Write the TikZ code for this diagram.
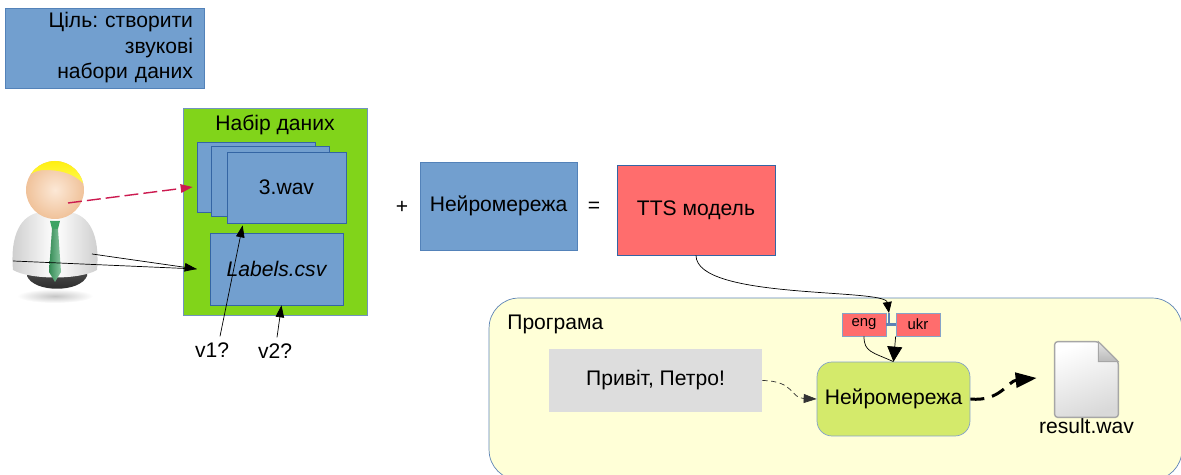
\documentclass[tikz,border=0pt]{standalone}
\usepackage{fontspec}
\setmainfont{Liberation Sans}
\usepackage{xcolor}
\usetikzlibrary{shapes,arrows.meta,positioning,fit,calc}
\frenchspacing

\definecolor{skyblue}{HTML}{729FCF}
\definecolor{deepblue}{HTML}{3465A4}
\definecolor{leafgreen}{HTML}{81D41A}
\definecolor{salmon}{HTML}{FF6D6D}
\definecolor{cream}{HTML}{FFFFD7}
\definecolor{pistachio}{HTML}{D4EA6B}
\definecolor{silver}{HTML}{DDDDDD}
\definecolor{crimson}{HTML}{CC1A50}
\definecolor{tiegreen}{HTML}{3DA364}
\definecolor{skinlight}{HTML}{FCE8D6}
\definecolor{skindark}{HTML}{F0C29A}

\begin{document}
\begin{tikzpicture}[x=0.02cm, y=-0.02cm, font=\fontsize{12}{14.5}\selectfont,
    box/.style={rectangle, draw=deepblue!50!skyblue, fill=skyblue, inner sep=0pt},
    wavbox/.style={box, draw=deepblue, minimum width=2.36cm, minimum height=1.4cm},
    redbox/.style={box, draw=deepblue, fill=salmon},
    tag/.style={redbox, draw=deepblue!60, minimum width=0.88cm, minimum height=0.46cm, font=\fontsize{8.5}{10}\selectfont},
    arr/.style={-{Triangle[length=0.24cm, width=0.17cm]}}]
    \useasboundingbox (0,0) rectangle (1181,475);

    \node (goal) [box, minimum width=3.98cm, minimum height=1.6cm, text width=3.54cm, align=right, inner xsep=0.22cm] at (104.5,48) {Ціль: створити\\звукові\\набори даних};

    % the person
    \shade[inner color=gray!45, outer color=white] (55,296) ellipse [x radius=38, y radius=7];
    \shade[top color=gray!70!black, bottom color=black!85] (27,262) -- (87,262) -- (87,276) .. controls (80,293) and (34,293) .. (27,276) -- cycle;
    \shade[left color=gray!40, right color=gray!40, middle color=white] (13,270) .. controls (10,236) and (20,214) .. (42,212) -- (68,212) .. controls (90,214) and (100,236) .. (97,270) .. controls (80,280) and (30,280) .. (13,270) -- cycle;
    \fill[tiegreen] (50,221) -- (60,221) -- (58,229) -- (52,229) -- cycle;
    \shade[left color=tiegreen!85!black, right color=tiegreen!60!white] (52,229) -- (58,229) -- (61,272) -- (55,282) -- (49,272) -- cycle;
    \shade[inner color=skinlight, outer color=skindark] (55,190) circle (29);
    \begin{scope}
        \clip (55,190) circle (29);
        \shade[top color=yellow!85!orange, bottom color=yellow!60!white] (20,155) -- (90,155) -- (90,192) .. controls (80,176) and (65,170) .. (45,170) .. controls (35,170) and (28,175) .. (24,180) -- cycle;
    \end{scope}
    \node (person) [minimum width=1.8cm, minimum height=2.8cm] at (55,228) {};
    \coordinate (face) at (68,203);
    \coordinate (hand) at (92,254);
    \coordinate (waist) at (13,261);

    % data set
    \node (data) [rectangle, draw=deepblue!70, fill=leafgreen, minimum width=3.68cm, minimum height=4.14cm] at (275,211.5) {};
    \node (datatitle) at (275,125) {Набір даних};
    \node (wav1) [wavbox] at (256,177) {};
    \node (wav2) [wavbox] at (270,181.5) {};
    \node (wav3) [wavbox, minimum width=2.38cm, minimum height=1.42cm] at (286.5,187.5) {3.wav};
    \node (labels) [box, draw=deepblue, minimum width=2.66cm, minimum height=1.44cm, font=\fontsize{12}{14.5}\selectfont\itshape] at (276.5,269) {Labels.csv};
    \node (v1) at (212,350) {v1?};
    \node (v2) at (275,351) {v2?};

    \draw[crimson, line width=0.8pt, dash pattern=on 0.28cm off 0.1cm, arr] (face) -- ([xshift=-0.08cm, yshift=-0.2cm]wav1.west);
    \coordinate (tip) at ([xshift=-0.26cm]labels.west);
    \draw (waist) -- (tip);
    \draw[arr] (hand) -- (tip);
    \draw[arr] ([xshift=0.16cm]v1.north) -- ($(wav3.south west)+(16,2)$);
    \draw[arr] ([xshift=0.04cm]v2.north) -- ([xshift=0.1cm]labels.south);

    \node (plus) at (402,207) {+};
    \node (net) [box, minimum width=3.14cm, minimum height=1.76cm] at (498.5,206) {Нейромережа};
    \node (eq) at (594,207) {=};
    \node (tts) [redbox, minimum width=3.16cm, minimum height=1.8cm] at (696,210) {TTS модель};

    % program
    \node (prog) [rectangle, rounded corners=0.6cm, draw=deepblue!80, fill=cream, minimum width=13.86cm, minimum height=3.64cm] at (835.5,389) {};
    \node (progtitle) [anchor=base west, inner sep=0pt] at (507,330) {Програма};
    \node (hello) [rectangle, fill=silver, minimum width=4.26cm, minimum height=1.26cm] at (655.5,380.5) {Привіт, Петро!};
    \node (eng) [tag] at (864,324.5) {eng};
    \node (ukr) [tag] at (918,324.5) {ukr};
    \node (model) [rectangle, rounded corners=0.3cm, draw=deepblue!60, fill=pistachio, minimum width=3.06cm, minimum height=1.48cm] at (893.5,399) {Нейромережа};
    \node (result) [minimum width=1.26cm, minimum height=1.5cm] at (1086.5,379.5) {};
    \node (resultname) [below=0.02cm of result, inner sep=0pt] {result.wav};

    % file icon
    \shade[top color=white, bottom color=gray!30, shading angle=20, draw=gray!70, line width=0.8pt, rounded corners=0.06cm] (result.north west) -- ($(result.north east)+(-20,0)$) -- ($(result.north east)+(0,20)$) -- (result.south east) -- (result.south west) -- cycle;
    \shade[top color=gray!20, bottom color=gray!55, draw=gray!70, line width=0.6pt] ($(result.north east)+(-20,0)$) -- ($(result.north east)+(-20,20)$) -- ($(result.north east)+(0,20)$) -- cycle;

    % language switch
    \coordinate (sel) at (889,313);
    \draw[deepblue!80, line width=1.2pt] (eng.east) -- (ukr.west);
    \draw[deepblue!80, line width=1.2pt] (sel) -- (sel |- eng.east);
    \draw[-{Triangle[length=0.22cm, width=0.18cm]}] (tts.south) .. controls (696,300) and (885,288) .. (sel);
    \draw (eng.south) .. controls (864,352) and (872,352) .. (model.north);
    \draw[-{Triangle[length=0.3cm, width=0.3cm]}] (ukr.south west) -- (model.north);

    \draw[densely dashed, black!80, -{Triangle[length=0.26cm, width=0.18cm]}] (hello.east) .. controls (795,381) and (790,398) .. (model.west);
    \coordinate (out) at ($(result.west)+(-18,-1.5)$);
    \draw[line width=1.7pt, dash pattern=on 0.28cm off 0.16cm, -{Triangle[length=0.42cm, width=0.3cm]}] (model.east) .. controls (1000,402) and (1008,381) .. (out);
\end{tikzpicture}
\end{document}
